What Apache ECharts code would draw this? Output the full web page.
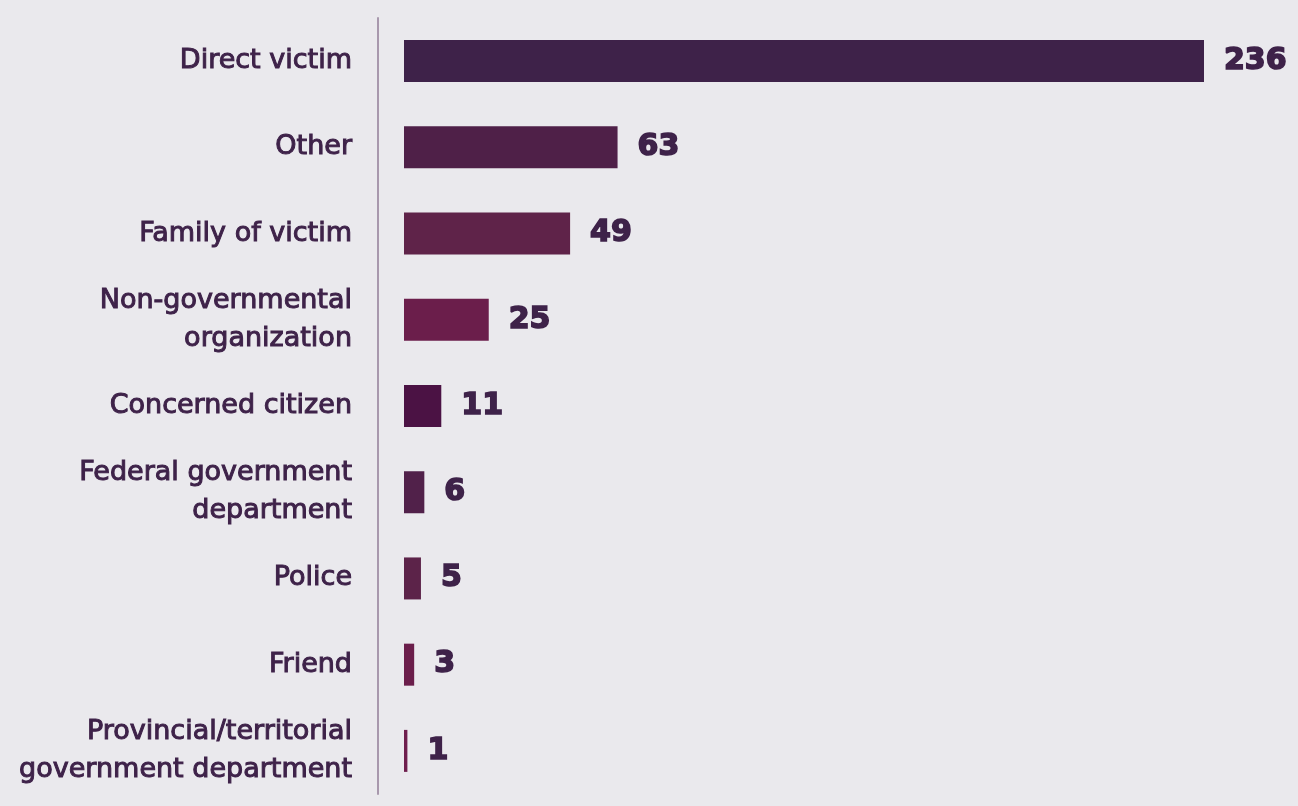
<!DOCTYPE html>
<html>
<head>
<meta charset="utf-8">
<script src="https://cdn.jsdelivr.net/npm/echarts@6/dist/echarts.min.js"></script>
<style>
html,body{margin:0;padding:0;background:#eae9ed;}
#chart{width:1298px;height:806px;}
</style>
</head>
<body>
<div id="chart"></div>
<script>
const categories = [
  "Direct victim",
  "Other",
  "Family of victim",
  "Non-governmental\norganization",
  "Concerned citizen",
  "Federal government\ndepartment",
  "Police",
  "Friend",
  "Provincial/territorial\ngovernment department"
];
const values = [236, 63, 49, 25, 11, 6, 5, 3, 1];
const barColors = ["#3e2249", "#4f2048", "#5f2349", "#6b1e4b", "#4b1244", "#51214a", "#5c2349", "#6b1e4b", "#6e1e4d"];

const chart = echarts.init(document.getElementById('chart'));
chart.setOption({
  backgroundColor: '#eae9ed',
  animation: false,
  grid: { left: 404, width: 800, top: 18, bottom: 12, containLabel: false },
  xAxis: {
    type: 'value', min: 0, max: 236, show: false
  },
  yAxis: {
    type: 'category',
    data: categories,
    inverse: true,
    offset: 26,
    axisLine: { show: true, onZero: false, lineStyle: { color: '#a898ad', width: 2 } },
    axisTick: { show: false },
    axisLabel: {
      margin: 26,
      color: '#3e2249',
      fontFamily: 'DejaVu Sans',
      fontSize: 27,
      lineHeight: 38,
      textBorderColor: '#3e2249',
      textBorderWidth: 1,
      align: 'right'
    }
  },
  series: [{
    type: 'bar',
    data: values.map((v, i) => ({ value: v, itemStyle: { color: barColors[i] } })),
    barWidth: 42,
    label: {
      show: true,
      position: 'right',
      distance: 20,
      color: '#3e2249',
      fontFamily: 'DejaVu Sans',
      fontWeight: 'bold',
      fontSize: 30,
      textBorderColor: '#3e2249',
      textBorderWidth: 1.6
    }
  }]
});
</script>
</body>
</html>
